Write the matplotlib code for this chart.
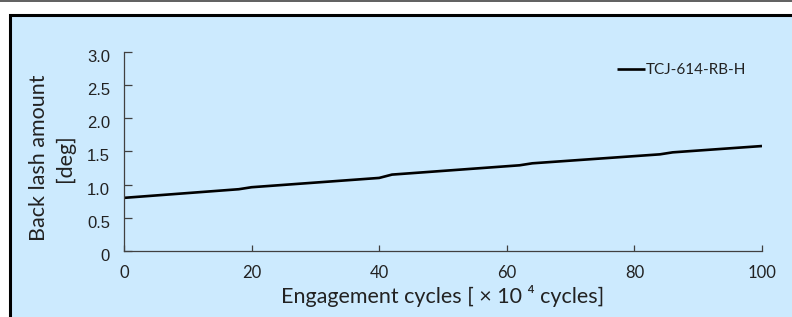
import matplotlib
matplotlib.use('Agg')
import matplotlib.pyplot as plt
import matplotlib.transforms as mtransforms
from matplotlib.patches import Rectangle
from matplotlib.lines import Line2D

# Data
cycles = [0, 18, 20, 40, 42, 62, 64, 84, 86, 100]
backlash = [0.80, 0.93, 0.96, 1.10, 1.15, 1.29, 1.32, 1.455, 1.485, 1.58]
series_name = 'TCJ-614-RB-H'
x_ticks = [0, 20, 40, 60, 80, 100]
y_ticks = [0, 0.5, 1.0, 1.5, 2.0, 2.5, 3.0]
y_tick_labels = ['0', '0.5', '1.0', '1.5', '2.0', '2.5', '3.0']

W, H = 792, 317
bg = '#cceafe'
label_font = ['Lato', 'DejaVu Sans']

fig = plt.figure(figsize=(W / 100, H / 100), dpi=100)
fig.patch.set_facecolor('white')

# thin grey rule across the top
fig.add_artist(Line2D([0, 1], [1 - 0.5 / H, 1 - 0.5 / H], color='#444444', lw=1.2,
                      transform=fig.transFigure))
# light blue panel with black border (runs off right/bottom edge)
fig.add_artist(Rectangle((9.5 / W, -0.05), 1.0, 1 - 14.5 / H + 0.05,
                         transform=fig.transFigure, facecolor=bg,
                         edgecolor='black', lw=2.2, zorder=0))

ax = fig.add_axes([124 / W, 1 - 251 / H, (762 - 124) / W, (251 - 51.7) / H])
ax.set_facecolor('none')

ax.plot(cycles, backlash, color='black', lw=1.9, label=series_name,
        solid_capstyle='butt')

ax.set_xlim(0, 100)
ax.set_ylim(0, 3.0)
ax.set_xticks(x_ticks)
ax.set_yticks(y_ticks)
ax.set_yticklabels(y_tick_labels)

for s in ['top', 'right']:
    ax.spines[s].set_visible(False)
for s in ['left', 'bottom']:
    ax.spines[s].set_color('#404040')
    ax.spines[s].set_linewidth(0.9)

ax.tick_params(axis='y', direction='in', length=6, width=0.9, color='#404040',
               pad=10, labelsize=12, labelcolor='#222222')
ax.tick_params(axis='x', direction='in', length=4, width=0.9, color='#404040',
               pad=10, labelsize=12, labelcolor='#222222')
# y labels sit a little below their ticks in the reference
shift = mtransforms.ScaledTranslation(0, -4 / 100, fig.dpi_scale_trans)
for t in ax.get_yticklabels():
    t.set_family('Liberation Sans')
    t.set_transform(t.get_transform() + shift)
for t in ax.get_xticklabels():
    t.set_family(label_font)

ax.set_xlabel('Engagement cycles [ \u00d7 10 \u2074 cycles]', fontsize=15.5,
              family=label_font, color='#222222', labelpad=3)
ax.set_ylabel('Back lash amount\n[deg]', fontsize=15.5, family=label_font,
              color='#222222', linespacing=1.35)
ax.yaxis.set_label_coords((75 - 124) / (762 - 124), (251 - 158) / (251 - 51.7))

leg = ax.legend(loc='upper left', bbox_to_anchor=((617 - 124) / (762 - 124), 1 - (63 - 51.7) / (251 - 51.7)),
                frameon=False, handlelength=1.8, handletextpad=0.1,
                borderaxespad=0, borderpad=0, prop={'family': label_font, 'size': 11})
for t in leg.get_texts():
    t.set_color('#222222')

fig.savefig('out.png', dpi=100, facecolor=fig.get_facecolor())
